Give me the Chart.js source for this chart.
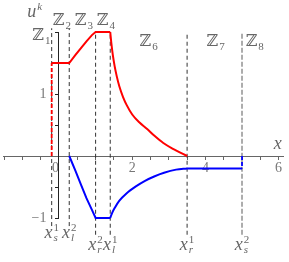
<!DOCTYPE html>
<html>
<head>
<meta charset="utf-8">
<script src="https://cdn.jsdelivr.net/npm/chart.js@4"></script>
<style>
  html, body { margin: 0; padding: 0; background: #fff; }
  canvas { display: block; }
</style>
</head>
<body>
<canvas id="chart" width="289" height="262"></canvas>
<script>
// solution u^k, red component: flat, rise, flat, then decay to zero
const redFlatX  = [-0.2, 0.28, 0.45, 0.6, 0.75, 0.9, 1.0, 1.4];
const redFlatY  = [1.5, 1.5, 1.63, 1.74, 1.85, 1.95, 2.0, 2.0];
const redDecayX = [1.4, 1.43, 1.47, 1.52, 1.58, 1.65, 1.75, 1.85, 2.0, 2.2, 2.4, 2.6, 2.85, 3.1, 3.3, 3.5];
const redDecayY = [2.0, 1.82, 1.63, 1.45, 1.28, 1.12, 0.95, 0.82, 0.67, 0.54, 0.44, 0.33, 0.21, 0.12, 0.06, 0.0];

// blue component: fall, flat, rise, flat
const blueFallX = [0.28, 0.45, 0.6, 0.75, 0.9, 1.0, 1.4];
const blueFallY = [0.0, -0.24, -0.46, -0.68, -0.87, -1.0, -1.0];
const blueRiseX = [1.4, 1.45, 1.53, 1.65, 1.85, 2.1, 2.35, 2.6, 2.87, 3.2, 3.5];
const blueRiseY = [-1.0, -0.92, -0.83, -0.72, -0.6, -0.49, -0.4, -0.33, -0.27, -0.22, -0.2];
const blueTailX = [3.5, 5.0];
const blueTailY = [-0.2, -0.2];

// jumps at the shock positions
const redJumpX  = [-0.2, -0.2];
const redJumpY  = [0.0, 1.5];
const blueJumpX = [5.0, 5.0];
const blueJumpY = [0.0, -0.2];

// vertical markers x_s^1, x_l^2, x_r^2, x_l^1, x_r^1, x_s^2
const markX      = [-0.2, 0.28, 1.0, 1.4, 3.5, 5.0];
const markTop    = [2.06, 2.06, 2.0, 2.0, 2.0, 2.0];
const markBottom = [-1.13, -1.13, -1.27, -1.27, -1.27, -1.27];
const markSub    = ['s', 'l', 'r', 'l', 'r', 's'];
const markSup    = ['1', '2', '2', '1', '1', '2'];

// zone names
const zoneNames = ['1', '2', '3', '4', '6', '7', '8'];

// tick labels
const xTickValues = [0, 2, 4, 6];
const yTickValues = [1, -1];
const yTickTexts  = ['1', '\u22121'];

const SERIF = '"Liberation Serif", "DejaVu Serif", serif';
const TEXT  = '#666';
const RED   = '#ff0000';
const BLUE  = '#0000ff';

// where the text annotations sit (data coordinates)
const ZONE_POS = [
  [-0.73, 1.87], [-0.17, 2.11], [0.43, 2.11], [1.03, 2.11],
  [2.2, 1.77], [4.03, 1.77], [5.1, 1.77],
];
const MARK_BASE = [-1.32, -1.32, -1.52, -1.52, -1.52, -1.52];

function series(xs, ys, style) {
  return {
    data: xs.map((x, i) => ({ x, y: ys[i] })),
    showLine: true, pointRadius: 0, pointHoverRadius: 0,
    fill: false, tension: 0, clip: false, ...style,
  };
}

function scripted(ctx, x, y, base, sup, sub, o) {
  const baseFont = `${o.italicBase ? 'italic ' : ''}${o.size}px ${SERIF}`;
  const fontFor = s => `${/[a-z]/.test(s) ? 'italic ' : ''}${o.small}px ${SERIF}`;
  ctx.font = baseFont;
  const bw = ctx.measureText(base).width;
  let sw = 0;
  if (sup) { ctx.font = fontFor(sup); sw = Math.max(sw, ctx.measureText(sup).width); }
  if (sub) { ctx.font = fontFor(sub); sw = Math.max(sw, ctx.measureText(sub).width); }
  const left = o.center ? x - (bw + 1 + sw) / 2 : x;
  ctx.textAlign = 'left';
  ctx.textBaseline = 'alphabetic';
  ctx.font = baseFont;
  ctx.fillText(base, left, y);
  if (sup) { ctx.font = fontFor(sup); ctx.fillText(sup, left + bw + 1, y - o.supUp); }
  if (sub) { ctx.font = fontFor(sub); ctx.fillText(sub, left + bw + 1, y + o.subDown); }
}

const annotations = {
  id: 'annotations',
  afterDraw(chart) {
    const { ctx, scales: { x, y } } = chart;
    ctx.save();
    ctx.fillStyle = TEXT;
    zoneNames.forEach((n, i) => {
      const [dx, dy] = ZONE_POS[i];
      scripted(ctx, x.getPixelForValue(dx), y.getPixelForValue(dy), '\u2124', null, n,
        { size: 16, small: 11, italicBase: false, subDown: 4 });
    });
    markX.forEach((mx, i) => {
      scripted(ctx, x.getPixelForValue(mx), y.getPixelForValue(MARK_BASE[i]), 'x', markSup[i], markSub[i],
        { size: 18, small: 11, italicBase: true, supUp: 7, subDown: 3, center: true });
    });
    scripted(ctx, x.getPixelForValue(-0.87), y.getPixelForValue(2.24), 'u', 'k', null,
      { size: 18, small: 11, italicBase: true, supUp: 7 });
    scripted(ctx, x.getPixelForValue(5.87), y.getPixelForValue(0.11), 'x', null, null,
      { size: 18, small: 11, italicBase: true });
    ctx.restore();
  },
};

const datasets = [
  series(redFlatX, redFlatY, { borderColor: RED, borderWidth: 2 }),
  series(redDecayX, redDecayY, { borderColor: RED, borderWidth: 2, cubicInterpolationMode: 'monotone' }),
  series(blueFallX, blueFallY, { borderColor: BLUE, borderWidth: 2 }),
  series(blueRiseX, blueRiseY, { borderColor: BLUE, borderWidth: 2, cubicInterpolationMode: 'monotone' }),
  series(blueTailX, blueTailY, { borderColor: BLUE, borderWidth: 2 }),
  series(redJumpX, redJumpY, { borderColor: RED, borderWidth: 1.8, borderDash: [4, 2] }),
  series(blueJumpX, blueJumpY, { borderColor: BLUE, borderWidth: 1.8, borderDash: [4, 2] }),
  ...markX.map((mx, i) => series([mx, mx], [markBottom[i], markTop[i]], i === 5
    ? { borderColor: '#999', borderWidth: 1.6, borderDash: [5, 2] }
    : { borderColor: '#333', borderWidth: 1, borderDash: [4, 3] })),
];

new Chart(document.getElementById('chart'), {
  type: 'scatter',
  data: { datasets },
  plugins: [annotations],
  options: {
    responsive: false, animation: false, devicePixelRatio: 1,
    layout: { padding: { left: 3, right: 6, top: 32, bottom: 44 } },
    plugins: { legend: { display: false }, tooltip: { enabled: false } },
    scales: {
      x: {
        type: 'linear', min: -1.53, max: 6.12, position: { y: 0 },
        border: { color: '#666', width: 1 },
        grid: { drawOnChartArea: false, drawTicks: true, tickLength: 3, color: '#666' },
        ticks: {
          stepSize: 0.5, includeBounds: false, autoSkip: false, maxRotation: 0, padding: 1,
          color: '#777', font: { family: SERIF, size: 14 },
          // the 0 label is nudged left, clear of the vertical axis
          callback: v => xTickValues.includes(v) ? (v === 0 ? '0\u2002' : String(v)) : '',
        },
      },
      y: {
        type: 'linear', min: -1, max: 2, position: { x: 0 },
        border: { color: '#222', width: 1 },
        grid: { drawOnChartArea: false, drawTicks: true, tickLength: 3, color: '#222' },
        ticks: {
          stepSize: 0.5, includeBounds: false, autoSkip: false,
          color: '#777', font: { family: SERIF, size: 14 },
          // a centred axis right-aligns labels on the line itself, so pad with spaces
          callback: v => {
            const i = yTickValues.indexOf(v);
            return i >= 0 ? yTickTexts[i] + '\u2002\u2009\u2009' : '';
          },
        },
      },
    },
  },
});
</script>
</body>
</html>
